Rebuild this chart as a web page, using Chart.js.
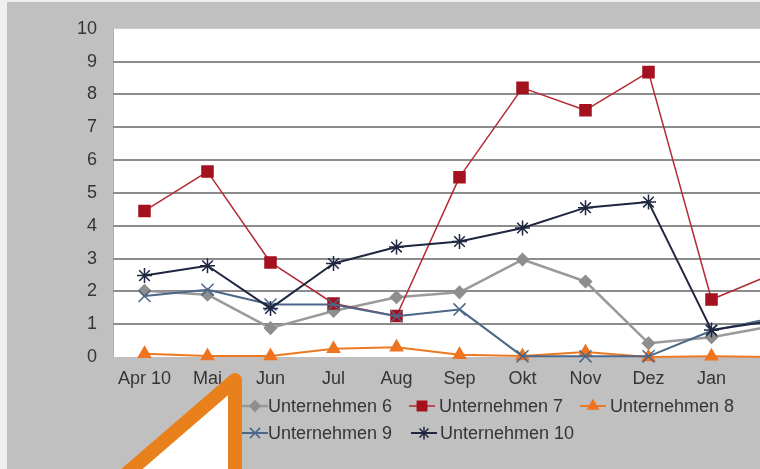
<!DOCTYPE html>
<html>
<head>
<meta charset="utf-8">
<script src="https://cdn.jsdelivr.net/npm/chart.js"></script>
<style>
  html, body { margin: 0; padding: 0; width: 760px; height: 469px; overflow: hidden; background: #efefef; }
  #wrap { position: absolute; left: 7px; top: 2px; width: 830px; height: 467px; }
  canvas { display: block; }
</style>
</head>
<body>
<div id="wrap"><canvas id="c" width="830" height="467"></canvas></div>
<script>
// ---- data ----
const categories = ['Apr 10', 'Mai', 'Jun', 'Jul', 'Aug', 'Sep', 'Okt', 'Nov', 'Dez', 'Jan', 'Feb'];
const seriesNames = ['Unternehmen 6', 'Unternehmen 7', 'Unternehmen 8', 'Unternehmen 9', 'Unternehmen 10'];
const u6  = [2.02, 1.9, 0.88, 1.4, 1.82, 1.97, 2.97, 2.3, 0.42, 0.6, 0.95];
const u7  = [4.45, 5.65, 2.88, 1.63, 1.25, 5.48, 8.2, 7.52, 8.68, 1.75, 2.55];
const u8  = [0.1, 0.03, 0.03, 0.25, 0.3, 0.07, 0.03, 0.15, 0, 0.02, 0];
const u9  = [1.86, 2.05, 1.6, 1.6, 1.24, 1.45, 0.02, 0.02, 0.02, 0.8, 1.2];
const u10 = [2.48, 2.78, 1.48, 2.85, 3.35, 3.52, 3.93, 4.55, 4.72, 0.82, 1.11];
const yTicks = [0, 1, 2, 3, 4, 5, 6, 7, 8, 9, 10];

const FONT = '"Liberation Sans", Arial, sans-serif';
const TXT = '#353535';

const styles = [
  { color: '#9a9a9a', fill: '#8e8e8e', style: 'rectRot', r: 6, lw: 2.5, order: 5 },
  { color: '#b42a34', fill: '#a3121e', style: 'rect', r: 7.8, lw: 1.5, order: 4 },
  { color: '#ec7a22', fill: '#ee7420', style: 'triangle', r: 7, lw: 2, order: 3 },
  { color: '#4d6788', fill: '#4d6788', style: 'crossRot', r: 8.5, lw: 2, order: 2 },
  { color: '#1e2640', fill: '#1e2640', style: 'star', r: 7.5, lw: 2, order: 1 }
];
const values = [u6, u7, u8, u9, u10];

const datasets = values.map((v, i) => ({
  label: seriesNames[i],
  data: v,
  borderColor: styles[i].color,
  backgroundColor: styles[i].fill,
  borderWidth: styles[i].lw,
  pointStyle: styles[i].style,
  pointRadius: styles[i].r,
  pointBackgroundColor: styles[i].fill,
  pointBorderColor: styles[i].fill,
  pointBorderWidth: 1.5,
  tension: 0,
  clip: false,
  order: styles[i].order
}));

const bgPlugin = {
  id: 'bg',
  beforeDraw(chart) {
    const { ctx, chartArea: a } = chart;
    ctx.save();
    ctx.fillStyle = '#c0c0c0';
    ctx.fillRect(0, 0, chart.width, chart.height);
    ctx.fillStyle = '#ffffff';
    ctx.fillRect(a.left, a.top, a.right - a.left, a.bottom - a.top);
    ctx.strokeStyle = '#b0b0b0';
    ctx.lineWidth = 1;
    ctx.beginPath();
    ctx.moveTo(a.left + 0.5, a.top);
    ctx.lineTo(a.left + 0.5, a.bottom);
    ctx.stroke();
    ctx.restore();
  }
};

// legend layout (Excel style, two left-aligned rows)
const legendSlots = [
  { x: 248, y: 404, t: 13 }, { x: 415, y: 404, t: 17 }, { x: 586, y: 404, t: 17 },
  { x: 248, y: 431, t: 13 }, { x: 417, y: 431, t: 16 }
];
const legendPlugin = {
  id: 'xlLegend',
  afterDraw(chart) {
    const ctx = chart.ctx;
    ctx.save();
    chart.data.datasets.forEach((ds, i) => {
      const s = legendSlots[i];
      ctx.strokeStyle = ds.borderColor;
      ctx.lineWidth = ds.borderWidth;
      ctx.beginPath();
      ctx.moveTo(s.x - 13, s.y);
      ctx.lineTo(s.x + 13, s.y);
      ctx.stroke();
      ctx.fillStyle = ds.pointBackgroundColor;
      ctx.strokeStyle = ds.pointBorderColor;
      ctx.lineWidth = ds.pointBorderWidth;
      if (Chart.helpers && Chart.helpers.drawPoint) {
        Chart.helpers.drawPoint(ctx, { pointStyle: ds.pointStyle, radius: ds.pointRadius * 0.85, rotation: 0, borderWidth: ds.pointBorderWidth }, s.x, s.y);
      }
      ctx.fillStyle = TXT;
      ctx.font = '18px ' + FONT;
      ctx.textAlign = 'left';
      ctx.textBaseline = 'middle';
      ctx.fillText(ds.label, s.x + s.t, s.y + 1);
    });
    ctx.restore();
  }
};

// big orange callout arrow overlaid on the picture
const arrowPlugin = {
  id: 'arrow',
  afterDraw(chart) {
    const ctx = chart.ctx;
    ctx.save();
    ctx.beginPath();
    ctx.moveTo(228, 378);
    ctx.lineTo(228, 620);
    ctx.lineTo(228 - 102 * (242 / 88), 620);
    ctx.closePath();
    ctx.fillStyle = '#ffffff';
    ctx.fill();
    ctx.lineWidth = 14;
    ctx.lineJoin = 'round';
    ctx.strokeStyle = '#e8801c';
    ctx.stroke();
    ctx.restore();
  }
};

new Chart(document.getElementById('c'), {
  type: 'line',
  data: { labels: categories, datasets },
  options: {
    responsive: false,
    animation: false,
    devicePixelRatio: 1,
    layout: { padding: { top: 24, left: 0, right: 31, bottom: 0 } },
    plugins: { legend: { display: false }, tooltip: { enabled: false } },
    elements: { line: { borderCapStyle: 'round', borderJoinStyle: 'round' } },
    scales: {
      x: {
        type: 'category',
        offset: true,
        grid: { display: false, drawTicks: false },
        border: { display: false },
        ticks: { padding: 11, color: TXT, font: { family: FONT, size: 18 }, maxRotation: 0, autoSkip: false },
        afterFit(s) { s.height = 112; }
      },
      y: {
        min: 0, max: 10,
        afterBuildTicks(s) { s.ticks = yTicks.map(v => ({ value: v })); },
        grid: {
          drawTicks: false,
          lineWidth: 2,
          color: c => (c.tick && (c.tick.value === 10 || c.tick.value === 0)) ? 'rgba(0,0,0,0)' : '#8c8c8c'
        },
        border: { display: false },
        ticks: { padding: 16, color: TXT, font: { family: FONT, size: 18 } },
        afterFit(s) { s.width = 106; }
      }
    }
  },
  plugins: [bgPlugin, legendPlugin, arrowPlugin]
});
</script>
</body>
</html>
